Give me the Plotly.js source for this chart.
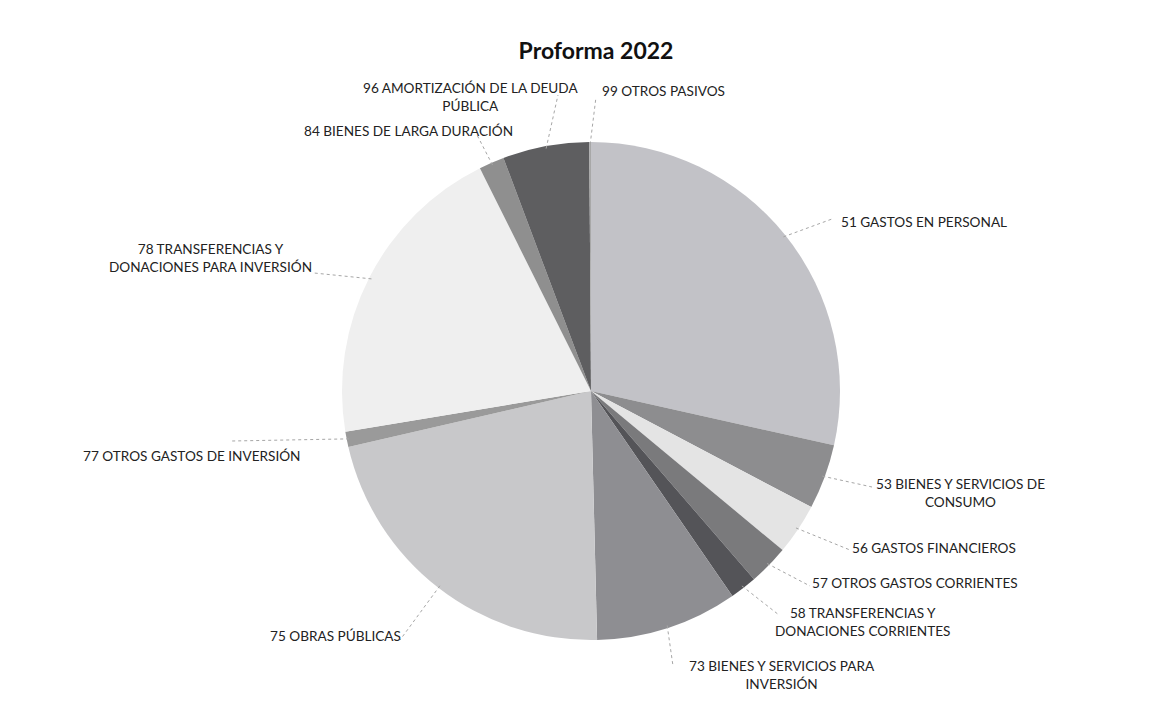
<!DOCTYPE html>
<html>
<head>
<meta charset="utf-8">
<script src="https://cdn.plot.ly/plotly-3.0.1.min.js"></script>
<style>html,body{margin:0;padding:0;background:#fff;}#chart{width:1161px;height:702px;}</style>
</head>
<body>
<div id="chart"></div>
<script>
// ---- data ----
const categories = [
  "51 GASTOS EN PERSONAL",
  "53 BIENES Y SERVICIOS DE CONSUMO",
  "56 GASTOS FINANCIEROS",
  "57 OTROS GASTOS CORRIENTES",
  "58 TRANSFERENCIAS Y DONACIONES CORRIENTES",
  "73 BIENES Y SERVICIOS PARA INVERSIÓN",
  "75 OBRAS PÚBLICAS",
  "77 OTROS GASTOS DE INVERSIÓN",
  "78 TRANSFERENCIAS Y DONACIONES PARA INVERSIÓN",
  "84 BIENES DE LARGA DURACIÓN",
  "96 AMORTIZACIÓN DE LA DEUDA PÚBLICA",
  "99 OTROS PASIVOS"
];
const shares = [28.5, 4.22, 3.31, 2.61, 1.75, 9.22, 21.78, 1.0, 20.25, 1.64, 5.61, 0.11];
const labelTexts = [
  "51 GASTOS EN PERSONAL",
  "53 BIENES Y SERVICIOS DE<br>CONSUMO",
  "56 GASTOS FINANCIEROS",
  "57 OTROS GASTOS CORRIENTES",
  "58 TRANSFERENCIAS Y<br>DONACIONES CORRIENTES",
  "73 BIENES Y SERVICIOS PARA<br>INVERSIÓN",
  "75 OBRAS PÚBLICAS",
  "77 OTROS GASTOS DE INVERSIÓN",
  "78 TRANSFERENCIAS Y<br>DONACIONES PARA INVERSIÓN",
  "84 BIENES DE LARGA DURACIÓN",
  "96 AMORTIZACIÓN DE LA DEUDA<br>PÚBLICA",
  "99 OTROS PASIVOS"
];
const chartTitle = "Proforma 2022";

// ---- styles / layout positions (pixels) ----
const colors = ["#c2c2c7","#8d8d8f","#e4e4e4","#7a7a7c","#545458","#8e8e92",
                "#c8c8ca","#9a9a9a","#efefef","#8f8f8f","#5e5e60","#a8a8a8"];
const W = 1161, H = 702;
const CX = 591, CY = 391, R = 249;
const labelPos = [[924,222],[960,493],[934,548],[915,583],[863,622],[782,675],
                  [335,636],[192,456],[211,258],[408,131],[470,97],[663,91]];
const leaderEnd = [[832,219],[872,487],[850,550],[810,586],[779,615],[673,666],
                   [400,640],[232,441],[314,273],[476,133],[558,95],[596,97]];

const px = x => x / W;
const py = y => 1 - y / H;
const FONT = "Lato, 'Liberation Sans', sans-serif";

// leader start points from data (slice mid-angle on pie edge)
const total = shares.reduce((a,b)=>a+b,0);
let cum = 0;
const shapes = [];
const annotations = [];
shares.forEach((v,i)=>{
  const mid = (cum + v/2) / total * 2 * Math.PI;
  cum += v;
  const sx = CX + R*0.99*Math.sin(mid);
  const sy = CY - R*0.99*Math.cos(mid);
  const [ex,ey] = leaderEnd[i];
  shapes.push({type:"line", xref:"paper", yref:"paper",
    x0:px(sx), y0:py(sy), x1:px(ex), y1:py(ey),
    line:{color:"#a6a6a6", width:1, dash:"dot"}});
  annotations.push({xref:"paper", yref:"paper", x:px(labelPos[i][0]), y:py(labelPos[i][1]),
    xanchor:"center", yanchor:"middle", align:"center", showarrow:false,
    text:labelTexts[i], font:{family:FONT, size:13.6, color:"#222"}});
});

const trace = {
  type:"pie",
  labels:categories,
  values:shares,
  sort:false,
  direction:"clockwise",
  rotation:0,
  textinfo:"none",
  hoverinfo:"label+percent",
  marker:{colors:colors, line:{width:0}},
  domain:{x:[px(CX-R), px(CX+R)], y:[py(CY+R), py(CY-R)]}
};

const layout = {
  width:W, height:H,
  margin:{l:0,r:0,t:0,b:0},
  paper_bgcolor:"#fff",
  showlegend:false,
  title:{text:"<b>"+chartTitle+"</b>", x:px(596), xanchor:"center", y:py(51), yanchor:"middle",
         font:{family:FONT, size:23, color:"#111"}},
  shapes:shapes,
  annotations:annotations
};

Plotly.newPlot("chart",[trace],layout,{displayModeBar:false, staticPlot:true});
</script>
</body>
</html>
